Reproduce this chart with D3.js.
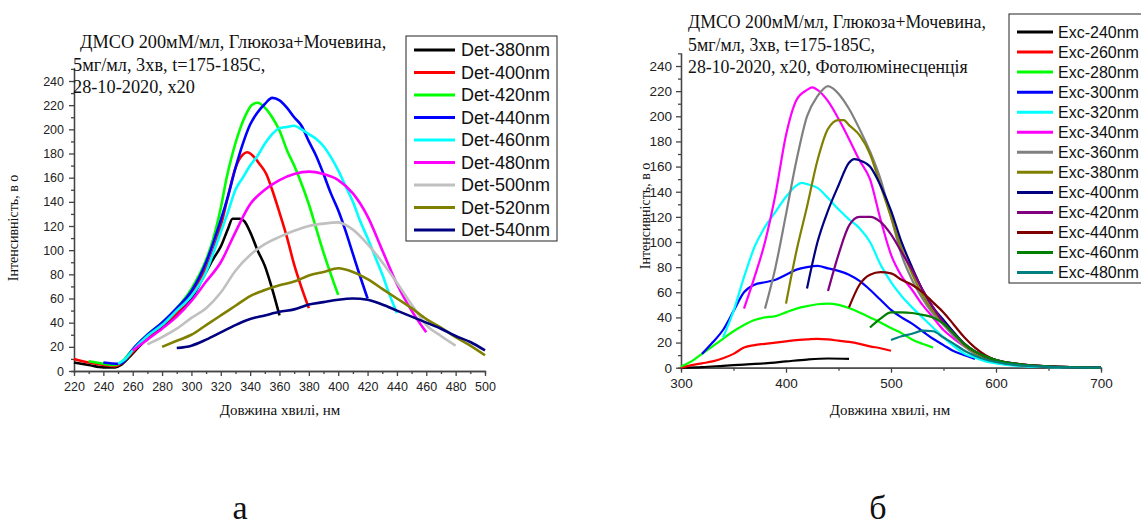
<!DOCTYPE html>
<html>
<head>
<meta charset="utf-8">
<title>ДМСО фотолюмінесценція</title>
<style>
  body { margin: 0; background: #fff; }
  svg { display: block; }
  .tick text { font-family: "Liberation Sans", Arial, sans-serif; fill: #222; }
  .serif { font-family: "Liberation Serif", "Times New Roman", serif; fill: #111; }
  .leg { font-family: "Liberation Sans", Arial, sans-serif; fill: #111; }
</style>
</head>
<body>
<svg id="chart" width="1141" height="528"></svg>
<script src="https://d3js.org/d3.v7.min.js"></script>
<script>
// ---- panel a: detection spectra (x = wavelength nm, y = intensity) ----
const det380 = [[220,7],[230,5],[240,3],[248,3],[252,5],[258,12],[265,21],[270,27],[280,36],[290,46],[300,60],[310,82],[315,93],[320,103],[325,118],[328,126],[333,126],[336,124],[340,115],[345,100],[350,87],[355,68],[360,46]];
const det400 = [[220,10],[230,7],[240,5],[248,4],[252,6],[258,13],[265,22],[270,28],[280,38],[290,48],[300,63],[310,85],[315,100],[320,120],[325,145],[330,168],[335,179],[338,181],[342,178],[346,172],[351,163],[355,150],[360,131],[365,111],[370,88],[375,69],[380,52]];
const det420 = [[230,8],[240,6],[248,5],[252,7],[258,15],[265,24],[270,30],[280,40],[290,52],[300,68],[310,92],[315,110],[320,135],[324,160],[328,180],[333,200],[337,212],[341,220],[345,222],[350,218],[355,210],[360,199],[365,183],[370,170],[375,155],[380,138],[385,118],[390,98],[395,80],[400,63]];
const det440 = [[240,7],[250,6],[253,7],[260,18],[270,30],[280,40],[290,52],[300,66],[310,90],[320,125],[325,145],[330,168],[335,188],[340,204],[345,214],[350,221],[355,226],[360,224],[365,218],[370,210],[375,203],[380,190],[385,178],[390,163],[395,147],[400,133],[405,116],[410,97],[415,78],[420,60]];
const det460 = [[250,6],[255,10],[260,17],[270,29],[280,38],[290,50],[300,62],[310,82],[315,98],[320,115],[325,132],[330,150],[335,160],[340,170],[345,178],[350,188],[355,196],[360,201],[365,202],[370,203],[375,200],[380,196],[385,192],[390,186],[395,177],[400,166],[405,153],[410,140],[415,124],[420,110],[425,95],[430,80],[435,63],[440,48]];
const det480 = [[260,17],[270,26],[280,35],[290,45],[300,58],[310,74],[320,90],[330,115],[340,138],[350,150],[360,158],[370,163],[380,165],[390,163],[400,158],[410,147],[420,128],[430,100],[440,72],[450,50],[460,32]];
const det500 = [[270,22],[280,28],[290,35],[300,44],[310,52],[320,65],[330,83],[340,96],[350,105],[360,111],[370,116],[380,120],[390,122],[400,123],[410,117],[420,105],[430,90],[440,73],[450,55],[460,38],[470,29],[480,21]];
const det520 = [[280,20],[290,25],[300,30],[310,38],[320,46],[330,54],[340,62],[350,67],[360,71],[370,74],[380,79],[390,82],[400,85],[410,82],[420,76],[430,68],[440,60],[450,52],[460,43],[470,36],[480,28],[490,21],[500,13]];
const det540 = [[290,19],[300,21],[310,26],[320,32],[330,38],[340,43],[350,46],[360,49],[370,51],[380,55],[390,57],[400,59],[410,60],[420,59],[430,55],[440,50],[450,45],[460,40],[470,35],[480,29],[490,24],[500,17]];
const detSeries = [det380, det400, det420, det440, det460, det480, det500, det520, det540];
const detNames = ["Det-380nm","Det-400nm","Det-420nm","Det-440nm","Det-460nm","Det-480nm","Det-500nm","Det-520nm","Det-540nm"];
const detColors = ["#000000","#ff0000","#00ff00","#0000ff","#00ffff","#ff00ff","#c0c0c0","#808000","#000080"];
const detXTicks = d3.range(220, 501, 20);
const detNote = ["ДМСО 200мМ/мл, Глюкоза+Мочевина,", "5мг/мл, 3хв, t=175-185C,", "28-10-2020, х20"];

// ---- panel б: excitation spectra ----
const exc240 = [[300,0],[320,0.5],[340,1.5],[360,2.5],[380,3.5],[400,5],[420,6.5],[440,7.3],[460,7]];
const exc260 = [[300,0],[310,2],[320,3.5],[330,5],[340,7.5],[350,11],[360,16],[370,18],[380,19],[390,20],[400,21],[410,22],[420,22.5],[430,23],[440,22.5],[450,21.5],[460,20.5],[470,19],[480,17],[490,15.5],[500,13.5]];
const exc280 = [[300,1],[310,5],[320,11],[330,17],[340,23],[350,29],[360,34],[370,38],[380,40],[390,41],[400,44],[410,47],[420,49],[430,50.5],[440,51],[450,50],[460,47.5],[470,44],[480,40],[490,36],[500,31.5],[510,27.5],[520,22.5],[530,19],[540,16]];
const exc300 = [[320,11],[330,20],[340,30],[350,45],[360,60],[370,66],[380,68],[390,70],[400,74],[410,78],[420,80],[430,81],[440,79],[450,77],[460,74],[470,69],[480,62],[490,54],[500,46],[510,40],[520,35],[530,29],[540,23],[550,18],[560,13],[570,10],[580,7]];
const exc320 = [[340,24],[350,45],[360,72],[370,96],[380,112],[390,124],[400,136],[410,145],[415,147],[420,146],[430,143],[440,135],[450,126],[460,118],[470,111],[480,100],[490,82],[500,68],[510,57],[520,48],[530,40],[540,32],[550,24],[560,17],[570,11],[580,8],[590,5],[600,3.5],[620,1.5],[650,0.5],[700,0]];
const exc340 = [[360,47],[370,72],[380,100],[390,138],[400,185],[410,213],[420,221],[425,223],[430,221],[440,212],[450,198],[460,182],[470,165],[480,150],[490,118],[500,90],[510,73],[520,62],[530,50],[540,40],[550,30],[560,23],[570,17],[580,12],[590,8],[600,5],[620,2.5],[650,1],[700,0]];
const exc360 = [[380,47],[390,80],[400,122],[410,165],[420,200],[430,216],[440,224],[445,222],[450,218],[460,206],[470,190],[480,172],[490,150],[500,120],[510,90],[520,70],[530,55],[540,43],[550,34],[560,25],[570,17],[580,11],[590,7],[600,5],[620,2.5],[650,1],[700,0]];
const exc380 = [[400,51],[410,93],[420,128],[430,165],[440,190],[450,197],[455,197],[460,193],[470,185],[480,170],[490,145],[500,120],[510,95],[520,75],[530,58],[540,45],[550,36],[560,27],[570,18],[580,12],[590,8],[600,5],[620,2.5],[650,1],[700,0]];
const exc400 = [[420,63],[430,100],[440,125],[450,145],[460,163],[465,166],[470,165],[480,160],[490,145],[500,125],[510,100],[520,80],[530,62],[540,48],[550,38],[560,28],[570,19],[580,13],[590,9],[600,6],[620,3],[650,1],[700,0]];
const exc420 = [[440,61],[450,90],[460,113],[470,120],[480,120],[490,116],[500,106],[510,92],[520,78],[530,62],[540,48],[550,36],[560,27],[570,19],[580,13],[590,9],[600,6],[620,3],[650,1],[700,0]];
const exc440 = [[460,48],[470,66],[480,74],[490,76],[500,75],[510,70],[520,66],[530,60],[540,52],[550,44],[560,34],[570,24],[580,16],[590,10],[600,6],[620,3],[650,1],[700,0]];
const exc460 = [[480,32],[490,39],[500,44],[510,44],[520,43.5],[530,42],[540,40],[550,35],[560,27],[570,19],[580,13],[590,9],[600,6],[620,3],[650,1],[700,0]];
const exc480 = [[500,22],[510,25],[520,27],[530,29.5],[540,29],[550,24],[560,19],[570,13.5],[580,9.5],[590,6.5],[600,4.5],[620,2],[650,0.7],[700,0]];
const excSeries = [exc240, exc260, exc280, exc300, exc320, exc340, exc360, exc380, exc400, exc420, exc440, exc460, exc480];
const excNames = ["Exc-240nm","Exc-260nm","Exc-280nm","Exc-300nm","Exc-320nm","Exc-340nm","Exc-360nm","Exc-380nm","Exc-400nm","Exc-420nm","Exc-440nm","Exc-460nm","Exc-480nm"];
const excColors = ["#000000","#ff0000","#00ff00","#0000ff","#00ffff","#ff00ff","#808080","#808000","#000080","#800080","#800000","#008000","#008080"];
const excXTicks = [300, 400, 500, 600, 700];
const excNote = ["ДМСО 200мМ/мл, Глюкоза+Мочевина,", "5мг/мл, 3хв, t=175-185C,", "28-10-2020, х20, Фотолюмінесценція"];

const yTicks = d3.range(0, 241, 20);
const xTitle = "Довжина хвилі, нм";
const yTitle = "Інтенсивність, в о";

const svg = d3.select("#chart");

function drawPanel(p) {
    const x = d3.scaleLinear().domain(p.xDomain).range([p.left, p.right]);
    const y = d3.scaleLinear().domain([0, 250]).range([p.bottom, p.bottom - 250 * p.ky]);
    const g = svg.append("g");

    // minor ticks first, majors on top
    g.append("g").attr("transform", `translate(0,${p.bottom})`)
        .call(d3.axisBottom(x).tickValues(p.xMinor).tickSize(3).tickFormat(""));
    g.append("g").attr("transform", `translate(${p.left},0)`)
        .call(d3.axisLeft(y).tickValues(d3.range(10, 250, 20)).tickSize(3).tickFormat(""));

    const xa = g.append("g").attr("transform", `translate(0,${p.bottom})`)
        .call(d3.axisBottom(x).tickValues(p.xTicks).tickSize(5).tickSizeOuter(0).tickPadding(6));
    const ya = g.append("g").attr("transform", `translate(${p.left},0)`)
        .call(d3.axisLeft(y).tickValues(yTicks).tickSize(5).tickSizeOuter(0).tickPadding(p.yPad));
    g.selectAll(".domain, .tick line").attr("stroke", "#444").attr("stroke-width", 1.3);
    xa.selectAll("text").attr("font-size", p.tickFont);
    ya.selectAll("text").attr("font-size", p.tickFont);

    const line = d3.line().x(d => x(d[0])).y(d => y(d[1])).curve(d3.curveMonotoneX);
    g.selectAll("path.series").data(p.series).join("path")
        .attr("class", "series")
        .attr("d", line)
        .attr("fill", "none")
        .attr("stroke", (d, i) => p.colors[i])
        .attr("stroke-width", p.lw)
        .attr("stroke-linejoin", "round");

    // axis titles
    g.append("text").attr("class", "serif")
        .attr("x", p.xTitleX).attr("y", 415)
        .attr("text-anchor", "middle").attr("font-size", 15).text(xTitle);
    g.append("text").attr("class", "serif")
        .attr("transform", `translate(${p.yTitleX},${p.yTitleY}) rotate(-90)`)
        .attr("text-anchor", "middle").attr("font-size", 14).text(yTitle);

    // note in the corner
    g.selectAll("text.note").data(p.note).join("text")
        .attr("class", "serif note")
        .attr("x", (d, i) => p.noteX[i]).attr("y", (d, i) => p.noteY + i * 22.5)
        .attr("font-size", p.noteFont).text(d => d);

    // legend
    const lg = g.append("g");
    lg.append("rect").attr("x", p.leg.x).attr("y", p.leg.y)
        .attr("width", p.leg.w).attr("height", p.leg.h)
        .attr("fill", "#fff").attr("stroke", "#222").attr("stroke-width", 1);
    const rows = lg.selectAll("g.row").data(p.names).join("g")
        .attr("transform", (d, i) => `translate(0,${p.leg.first + i * p.leg.step})`);
    rows.append("line").attr("x1", p.leg.lx1).attr("x2", p.leg.lx2)
        .attr("stroke", (d, i) => p.colors[i]).attr("stroke-width", 3);
    rows.append("text").attr("class", "leg").attr("x", p.leg.tx).attr("dy", "0.35em")
        .attr("font-size", p.leg.font).text(d => d);

    // caption
    g.append("text").attr("class", "serif").attr("x", p.capX).attr("y", 519)
        .attr("text-anchor", "middle").attr("font-size", 34).text(p.caption);
}

drawPanel({
    xDomain: [220, 500], left: 74, right: 485, bottom: 371, ky: 1.2083,
    xTicks: detXTicks, xMinor: d3.range(230, 500, 20), tickFont: 12.5, yPad: 5,
    series: detSeries, colors: detColors, names: detNames, lw: 2.6,
    xTitleX: 280, yTitleX: 18, yTitleY: 228,
    note: detNote, noteX: [80, 73, 73], noteY: 48, noteFont: 18.3,
    leg: {x: 406, y: 36, w: 151, h: 205, first: 50, step: 22.5, lx1: 414, lx2: 455, tx: 461, font: 18},
    capX: 240, caption: "а"
});

drawPanel({
    xDomain: [300, 700], left: 681, right: 1101, bottom: 367.7, ky: 1.257,
    xTicks: excXTicks, xMinor: [350, 450, 550, 650], tickFont: 13.5, yPad: 4,
    series: excSeries, colors: excColors, names: excNames, lw: 2.2,
    xTitleX: 890, yTitleX: 650, yTitleY: 216,
    note: excNote, noteX: [688, 688, 688], noteY: 28, noteFont: 17.8,
    leg: {x: 1009, y: 14, w: 150, h: 269, first: 32, step: 20.05, lx1: 1017, lx2: 1053, tx: 1058, font: 16},
    capX: 878, caption: "б"
});
</script>
</body>
</html>
